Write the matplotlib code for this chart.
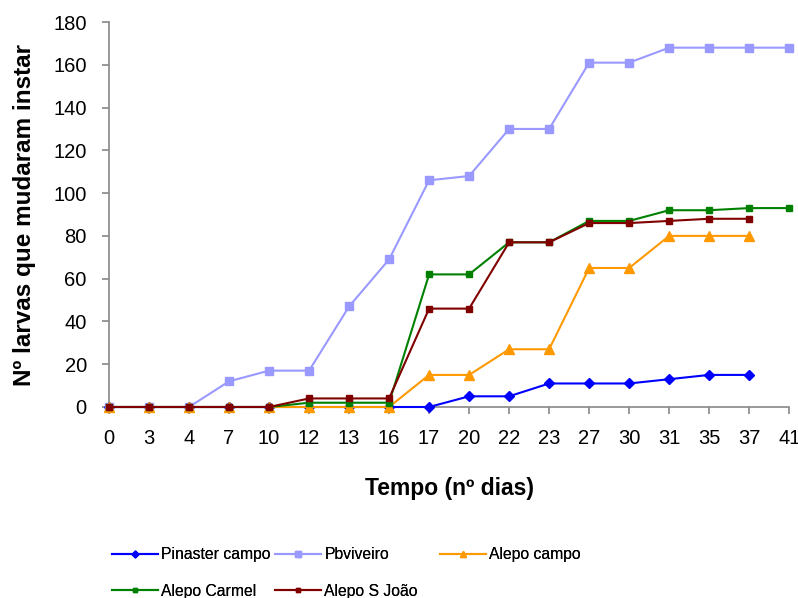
#larval instar changes over time for each pine source
import numpy as np
import matplotlib.pyplot as plt

plt.rcParams['font.family'] = ['Liberation Sans', 'DejaVu Sans']

#data
dias = ["0", "3", "4", "7", "10", "12", "13", "16", "17", "20", "22", "23", "27", "30", "31", "35", "37", "41"]

pinaster_campo = [0, 0, 0, 0, 0, 0, 0, 0, 0, 5, 5, 11, 11, 11, 13, 15, 15, None]
pbviveiro = [0, 0, 0, 12, 17, 17, 47, 69, 106, 108, 130, 130, 161, 161, 168, 168, 168, 168]
alepo_campo = [0, 0, 0, 0, 0, 0, 0, 0, 15, 15, 27, 27, 65, 65, 80, 80, 80, None]
alepo_carmel = [0, 0, 0, 0, 0, 2, 2, 2, 62, 62, 77, 77, 87, 87, 92, 92, 93, 93]
alepo_sjoao = [0, 0, 0, 0, 0, 4, 4, 4, 46, 46, 77, 77, 86, 86, 87, 88, 88, None]

series = [
    ("Pinaster campo", pinaster_campo, "#0000FF", "D", 5),
    ("Pbviveiro", pbviveiro, "#9999FF", "s", 6),
    ("Alepo campo", alepo_campo, "#FF9900", "^", 7),
    ("Alepo Carmel", alepo_carmel, "#008000", "s", 4.3),
    ("Alepo S João", alepo_sjoao, "#800000", "s", 5),
]

fig = plt.figure(figsize=(7.98, 5.98), dpi=100)
ax = fig.add_axes([0.1366, 0.3194, 0.8524, 0.6438])

x = np.arange(len(dias))
handles = []
for nome, vals, cor, mk, ms in series:
    y = np.array([np.nan if v is None else v for v in vals], dtype=float)
    h, = ax.plot(x, y, color=cor, marker=mk, markersize=ms, linewidth=1.5,
                 label=nome, clip_on=False, zorder=3)
    handles.append(h)

ax.set_xlim(0, len(dias) - 1)
ax.set_ylim(0, 180)
ax.set_yticks(range(0, 181, 20))
ax.set_xticks(x)
ax.set_xticklabels(dias)
ax.tick_params(labelsize=14.5, colors="#888888", labelcolor="black", length=5, width=1.2)
ax.tick_params(axis="y", pad=11)
ax.tick_params(axis="x", pad=11)

for s in ["top", "right"]:
    ax.spines[s].set_visible(False)
for s in ["left", "bottom"]:
    ax.spines[s].set_color("#888888")
    ax.spines[s].set_linewidth(1.2)

ax.set_xlabel("Tempo (nº dias)", fontsize=16.5, fontweight="bold", labelpad=21)
ax.set_ylabel("Nº larvas que mudaram instar", fontsize=17.5, fontweight="bold", labelpad=12.5)

#legend laid out as an equal-width grid, one legend per column
colunas = [([0, 3], 112), ([1, 4], 275), ([2], 440)]
for idx, xpos in colunas:
    leg = fig.legend([handles[i] for i in idx], [series[i][0] for i in idx],
                     loc="upper left", bbox_to_anchor=(xpos / 798, 1 - 547 / 598),
                     borderaxespad=0, borderpad=0, frameon=False,
                     fontsize=11.3, handlelength=2.95, handletextpad=0.2,
                     labelspacing=1.4, markerscale=0.7)
    fig.add_artist(leg)

plt.savefig("out.png", dpi=100)
